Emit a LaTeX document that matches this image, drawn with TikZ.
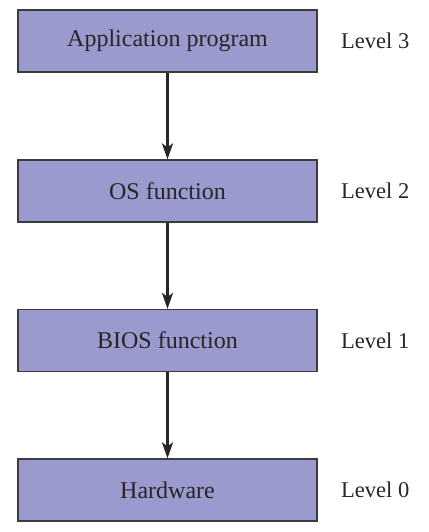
\documentclass[tikz,border=0pt]{standalone}
\usepackage{fontspec}
\setmainfont{Liberation Serif}
\usetikzlibrary{arrows.meta}
\definecolor{boxfill}{RGB}{154,154,206}
\definecolor{boxline}{RGB}{60,60,60}
\begin{document}
\begin{tikzpicture}[x=1pt,y=1pt,
  layerbox/.style={draw=boxline,fill=boxfill,line width=1.2pt,minimum width=299pt,minimum height=62pt,inner sep=0pt,font=\fontsize{24}{28}\selectfont,text=black!85},
  levellabel/.style={anchor=west,inner sep=0pt,font=\fontsize{22.5}{26}\selectfont,text=black!85},
  flow/.style={line width=2.3pt,draw=black!85,-{Stealth[length=16pt,width=11pt,inset=4pt]}}]
\useasboundingbox (0,0) rectangle (428,532);
\node[layerbox] (app) at (167.5,491) {Application program};
\node[layerbox] (os) at (167.5,341) {OS function};
\node[layerbox] (bios) at (167.5,191.5) {BIOS function};
\node[layerbox] (hw) at (167.5,42) {Hardware};
\node[levellabel] (l3) at (341,491) {Level 3};
\node[levellabel] (l2) at (341,341) {Level 2};
\node[levellabel] (l1) at (341,191.5) {Level 1};
\node[levellabel] (l0) at (341,42) {Level 0};
\draw[flow] (app.south) -- (os.north);
\draw[flow] (os.south) -- (bios.north);
\draw[flow] (bios.south) -- (hw.north);
\end{tikzpicture}
\end{document}
